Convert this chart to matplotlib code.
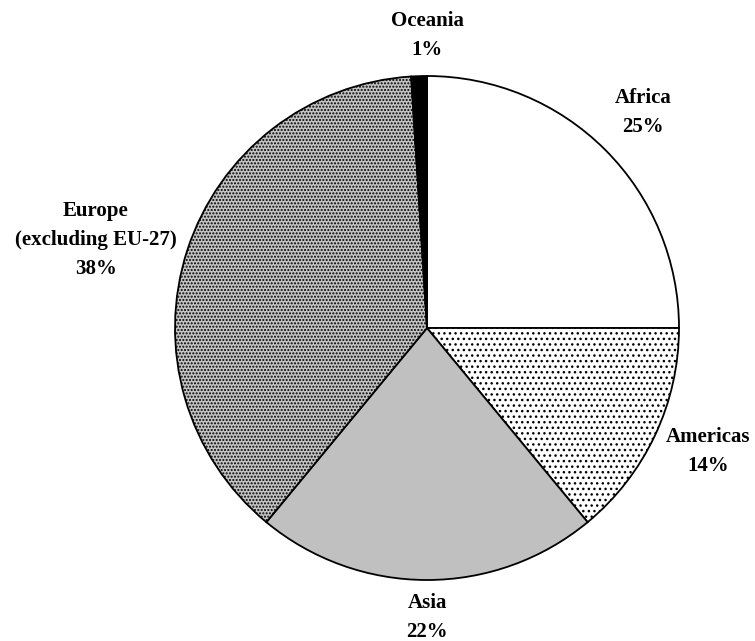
import numpy as np
import matplotlib
matplotlib.use("Agg")
import matplotlib.pyplot as plt

plt.rcParams["font.family"] = ["Liberation Serif", "DejaVu Serif"]
plt.rcParams["hatch.linewidth"] = 1.0

# data
regions = ["Africa", "Americas", "Asia", "Europe\n(excluding EU-27)", "Oceania"]
shares = [25, 14, 22, 38, 1]

# styling
face_colors = ["white", "white", "#c0c0c0", "#c4c4c4", "black"]
hatches = [None, "...", None, ".....", None]
# label anchors in pie-radius units (text positions only)
label_pos = [(0.857, 0.857), (1.115, -0.49), (0.0, -1.15), (-1.315, 0.35), (0.0, 1.16)]

W, H = 755, 641
cx, cy, R = 427, 328, 252  # pie centre / radius in pixels

fig = plt.figure(figsize=(W / 100, H / 100), dpi=100)
ax = fig.add_axes([0, 0, 1, 1])

wedges, _ = ax.pie(
    shares,
    startangle=90,
    counterclock=False,
    colors=face_colors,
    wedgeprops=dict(edgecolor="black", linewidth=1.3),
)
for w, h in zip(wedges, hatches):
    if h:
        w.set_hatch(h)

for name, val, (lx, ly) in zip(regions, shares, label_pos):
    ax.text(lx, ly, f"{name}\n{val}%", ha="center", va="center",
            fontsize=15, fontweight="bold", linespacing=1.6)

ax.set_xlim(-cx / R, (W - cx) / R)
ax.set_ylim(-(H - cy) / R, cy / R)
ax.set_aspect("auto")
ax.axis("off")

fig.savefig("out.png", dpi=100)
